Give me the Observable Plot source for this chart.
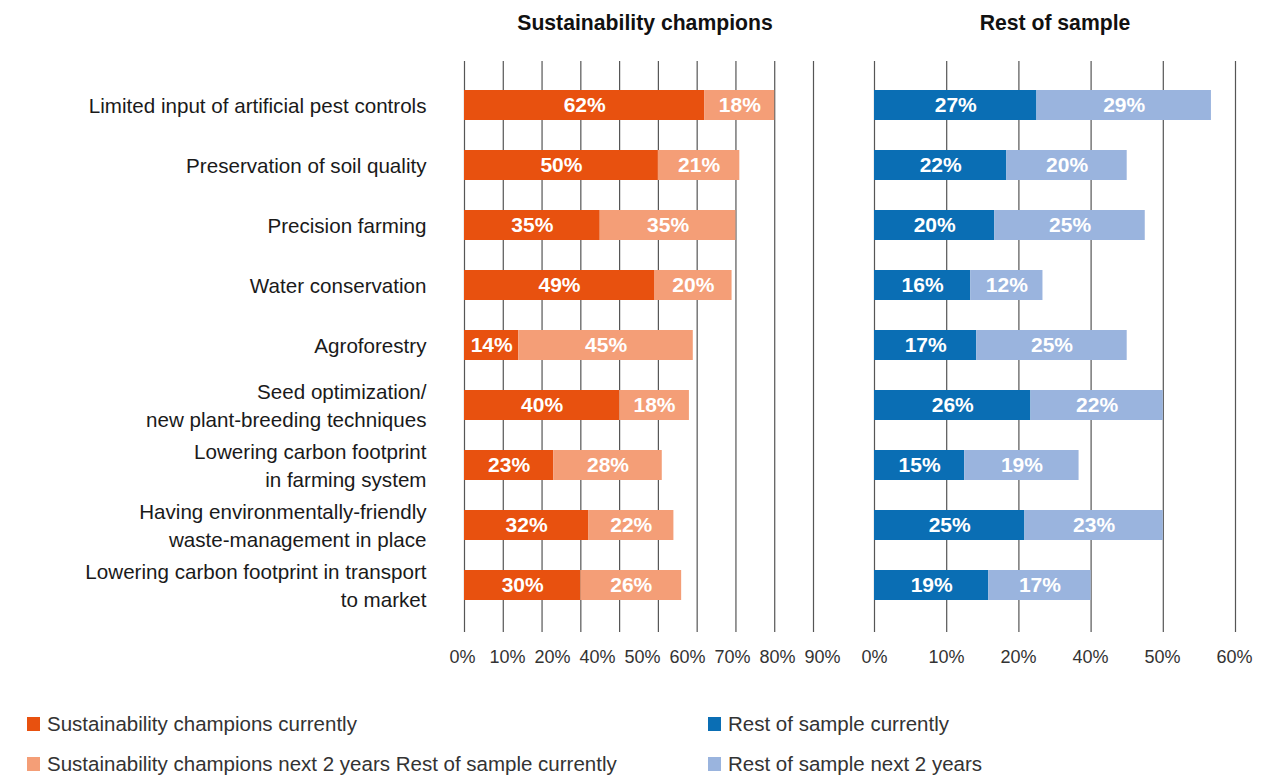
<!DOCTYPE html>
<html><head><meta charset="utf-8">
<script src="https://cdn.jsdelivr.net/npm/d3@7"></script>
<script src="https://cdn.jsdelivr.net/npm/@observablehq/plot@0.6"></script>
<style>
body{margin:0;background:#fff;}
#root{position:relative;width:1271px;height:775px;overflow:hidden;font-family:"Liberation Sans",Arial,Helvetica,sans-serif;color:#1a1a1a;}
.abs{position:absolute;}
.title{font-weight:bold;font-size:21.2px;color:#111;transform:translateX(-50%);white-space:nowrap;line-height:1;}
.leg{font-size:20.5px;color:#333;display:flex;align-items:center;white-space:nowrap;line-height:1;}
.sw{width:13px;height:14px;margin-right:7px;flex:none;}
</style></head><body><div id="root"></div>
<script>
const categories = [
  "Limited input of artificial pest controls",
  "Preservation of soil quality",
  "Precision farming",
  "Water conservation",
  "Agroforestry",
  "Seed optimization/\nnew plant-breeding techniques",
  "Lowering carbon footprint\nin farming system",
  "Having environmentally-friendly\nwaste-management in place",
  "Lowering carbon footprint in transport\nto market"
];
const champCurrent = [62, 50, 35, 49, 14, 40, 23, 32, 30];
const champNext    = [18, 21, 35, 20, 45, 18, 28, 22, 26];
const restCurrent  = [27, 22, 20, 16, 17, 26, 15, 25, 19];
const restNext     = [29, 20, 25, 12, 25, 22, 19, 23, 17];
const panelTitles = ["Sustainability champions", "Rest of sample"];
const leftGrid = [0, 10, 20, 30, 40, 50, 60, 70, 80, 90];
const leftTickLabels = ["0%", "10%", "20%", "40%", "50%", "60%", "70%", "80%", "90%"];
const rightGrid = [0, 12, 24, 36, 48, 60];
const rightTickLabels = ["0%", "10%", "20%", "40%", "50%", "60%"];
const legendLabels = [
  "Sustainability champions currently",
  "Sustainability champions next 2 years Rest of sample currently",
  "Rest of sample currently",
  "Rest of sample next 2 years"
];
const colors = ["#E8510F", "#F49E77", "#0A6EB4", "#9AB4DE"];

const FONT = '"Liberation Sans", Arial, Helvetica, sans-serif';
const root = document.getElementById("root");

function makeData(a, b) {
  return categories.flatMap((c, i) => [
    {cat: c, series: "current", value: a[i]},
    {cat: c, series: "next", value: b[i]}
  ]);
}
const yOpts = {domain: categories, paddingInner: 0.5, paddingOuter: 0.477, align: 0.474, label: null};

function panel({data, grid, domain, width, marginLeft, marginRight, cols, yAxis}) {
  const marks = [
    Plot.ruleX(grid, {stroke: "#555", strokeWidth: 1.2}),
    Plot.barX(data, Plot.stackX({x: "value", y: "cat", fill: "series"})),
    Plot.text(data, Plot.stackX({x: "value", y: "cat", z: "series", text: d => d.value + "%", fill: "white", fontWeight: "bold", fontSize: 21}))
  ];
  if (yAxis) marks.push(Plot.axisY({tickSize: 0, tickPadding: 38, fontSize: 20.6, fill: "#1a1a1a", lineHeight: 1.36, dy: -1.5, label: null}));
  return Plot.plot({
    width, height: 680, marginLeft, marginRight, marginTop: 61, marginBottom: 48,
    style: {fontFamily: FONT, background: "transparent", overflow: "visible"},
    x: {domain, axis: null},
    y: {...yOpts, axis: yAxis ? undefined : null},
    color: {domain: ["current", "next"], range: cols},
    marks
  });
}

function tickRow(labels, width, marginLeft, marginRight) {
  return Plot.plot({
    width, height: 36, marginLeft, marginRight, marginTop: 0, marginBottom: 0,
    style: {fontFamily: FONT, background: "transparent", overflow: "visible"},
    x: {type: "point", domain: labels, padding: 0, axis: null},
    marks: [Plot.text(labels, {x: d => d, frameAnchor: "middle", fontSize: 18, fill: "#333"})]
  });
}

function place(el, left, top) {
  el.style.position = "absolute";
  el.style.left = left + "px";
  el.style.top = top + "px";
  root.appendChild(el);
}

const leftPlot = panel({data: makeData(champCurrent, champNext), grid: leftGrid, domain: [0, 90], width: 850, marginLeft: 464, marginRight: 37, cols: [colors[0], colors[1]], yAxis: true});
place(leftPlot, 0, 0);
const rightPlot = panel({data: makeData(restCurrent, restNext), grid: rightGrid, domain: [0, 60], width: 421, marginLeft: 24, marginRight: 36, cols: [colors[2], colors[3]], yAxis: false});
place(rightPlot, 850, 0);

place(tickRow(leftTickLabels, 850, 462, 28), 0, 639);
place(tickRow(rightTickLabels, 421, 23, 36.5), 850, 639);

// titles
[[panelTitles[0], 645], [panelTitles[1], 1055]].forEach(([t, cx]) => {
  const d = document.createElement("div");
  d.className = "title abs";
  d.textContent = t;
  d.style.left = cx + "px";
  d.style.top = "12px";
  root.appendChild(d);
});

// legend
const legPos = [[27, 714], [27, 754], [708, 714], [708, 754]];
legendLabels.forEach((t, i) => {
  const d = document.createElement("div");
  d.className = "leg abs";
  d.style.left = legPos[i][0] + "px";
  d.style.top = legPos[i][1] + "px";
  const sw = document.createElement("span");
  sw.className = "sw";
  sw.style.background = colors[i];
  const tx = document.createElement("span");
  tx.textContent = t;
  d.appendChild(sw); d.appendChild(tx);
  root.appendChild(d);
});
</script>
</body></html>
